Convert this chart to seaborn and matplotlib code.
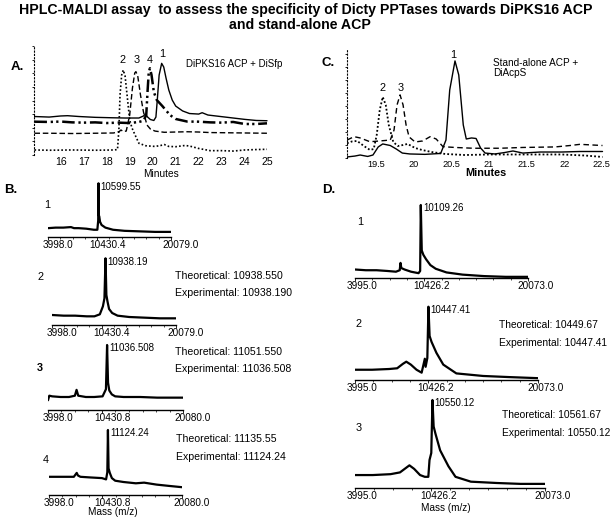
import numpy as np
import pandas as pd
import seaborn as sns
import matplotlib.pyplot as plt
import matplotlib.transforms as mtransforms
from matplotlib.ticker import FixedLocator

# ---- HPLC traces, panel A (minutes, relative absorbance) ----
a_time_1 = [14.86, 15.5, 16.0, 16.3, 16.8, 17.5, 18.2, 18.8, 19.4, 19.6, 19.68, 19.78, 19.9, 20.05, 20.14,
            20.2, 20.28, 20.39, 20.48, 20.58, 20.7, 20.85, 21.0, 21.3, 21.6, 22.0, 22.15, 22.4, 23.0, 23.5,
            24.0, 24.5, 24.97]
a_sig_1 = [2.83, 2.79, 2.87, 2.89, 2.83, 2.77, 2.74, 2.72, 2.72, 2.87, 3.01, 2.79, 2.61, 2.54, 2.79,
           4.04, 5.88, 6.74, 6.47, 5.66, 4.78, 4.04, 3.6, 3.24, 3.05, 3.01, 3.11, 2.94, 2.82, 2.72,
           2.62, 2.54, 2.52]
a_time_2 = [14.86, 15.5, 16.5, 17.5, 18.3, 18.47, 18.53, 18.58, 18.65, 18.72, 18.8, 18.9, 19.0, 19.1, 19.2,
            19.4, 19.7, 20.1, 20.35, 20.5, 20.7, 21.0, 21.4, 21.6, 22.0, 22.5, 23.0, 23.5, 24.0, 24.5, 24.97]
a_sig_2 = [0.37, 0.35, 0.37, 0.35, 0.37, 0.40, 1.84, 4.41, 5.88, 6.25, 5.81, 4.19, 2.57, 1.99, 1.60,
           0.86, 0.68, 0.63, 0.70, 0.77, 0.63, 0.61, 0.70, 0.66, 0.48, 0.32, 0.32, 0.29, 0.37, 0.40, 0.42]
a_time_3 = [14.86, 15.5, 16.5, 17.5, 18.3, 18.55, 18.62, 18.72, 18.85, 19.0, 19.12, 19.22, 19.27, 19.35,
            19.47, 19.6, 19.75, 19.9, 20.1, 20.5, 21.0, 21.5, 22.0, 22.5, 23.0, 24.0, 24.97]
a_sig_3 = [1.60, 1.60, 1.58, 1.60, 1.62, 1.73, 1.84, 1.73, 1.76, 2.94, 4.93, 6.03, 6.13, 5.81,
           4.41, 3.16, 2.21, 1.91, 1.76, 1.67, 1.69, 1.71, 1.69, 1.65, 1.64, 1.62, 1.60]
a_time_4 = [14.86, 15.5, 16.0, 16.5, 17.0, 17.5, 18.0, 18.5, 19.0, 19.4, 19.6, 19.72, 19.78, 19.83, 19.88,
            19.95, 20.05, 20.18, 20.3, 20.42, 20.6, 20.75, 21.0, 21.5, 22.0, 22.5, 23.0, 23.5, 24.0, 24.5, 24.97]
a_sig_4 = [2.45, 2.43, 2.46, 2.40, 2.38, 2.40, 2.35, 2.38, 2.35, 2.43, 2.52, 2.94, 4.78, 6.10, 6.38,
           5.88, 4.63, 4.04, 3.82, 3.6, 3.24, 2.94, 2.65, 2.46, 2.45, 2.40, 2.38, 2.43, 2.28, 2.28, 2.33]
a_ticks = [16, 17, 18, 19, 20, 21, 22, 23, 24, 25]

# ---- HPLC traces, panel C ----
c_time_1 = [19.115, 19.22, 19.29, 19.39, 19.46, 19.53, 19.59, 19.69, 19.77, 19.85, 19.95, 20.15, 20.36,
            20.43, 20.48, 20.55, 20.60, 20.66, 20.70, 20.77, 20.83, 20.89, 20.95, 21.08, 21.21, 21.32,
            21.45, 21.68, 21.97, 22.21, 22.51]
c_sig_1 = [0.08, 0.15, 0.23, 0.12, 0.23, 0.85, 1.08, 0.96, 0.69, 0.38, 0.31, 0.28, 0.35,
           1.38, 5.23, 7.46, 6.38, 2.54, 1.46, 1.54, 1.5, 0.77, 0.38, 0.31, 0.42, 0.54,
           0.38, 0.46, 0.46, 0.5, 0.5]
c_time_2 = [19.115, 19.18, 19.25, 19.34, 19.42, 19.47, 19.51, 19.55, 19.59, 19.63, 19.67, 19.73, 19.79,
            19.86, 19.92, 20.02, 20.11, 20.24, 20.42, 20.68, 21.01, 21.45, 21.97, 22.28, 22.51]
c_sig_2 = [1.13, 1.27, 1.31, 0.92, 0.62, 0.69, 1.77, 3.69, 4.69, 4.08, 2.54, 1.23, 0.92,
           1.0, 1.08, 0.77, 0.62, 0.46, 0.31, 0.23, 0.27, 0.27, 0.27, 0.19, 0.08]
c_time_3 = [19.115, 19.21, 19.29, 19.42, 19.55, 19.69, 19.74, 19.78, 19.82, 19.86, 19.90, 19.94, 20.02,
            20.12, 20.22, 20.30, 20.39, 20.55, 20.79, 21.15, 21.45, 21.88, 22.08, 22.21, 22.51]
c_sig_3 = [1.38, 1.64, 1.54, 1.25, 1.31, 1.38, 2.15, 4.08, 4.85, 4.08, 2.54, 1.62, 1.23,
           1.31, 1.64, 1.46, 0.87, 0.81, 0.75, 0.75, 0.81, 0.85, 0.96, 1.05, 0.96]
c_ticks = [19.5, 20.0, 20.5, 21.0, 21.5, 22.0, 22.5]

# ---- MALDI spectra, panel B (m/z, relative intensity %) ----
b1_mass = [3998, 5000, 6000, 7000, 7400, 8000, 9000, 10000, 10450, 10560, 10599.55, 10640, 10700, 10800,
           11000, 11500, 12500, 14000, 16000, 18000, 20079]
b1_int = [16, 17, 17, 18, 16, 16, 15, 13, 13, 30, 100, 40, 38, 28, 22, 17, 13, 11, 10, 9, 9]
b2_mass = [3998, 5500, 7000, 8500, 9500, 10200, 10600, 10800, 10938.19, 11050, 11200, 11400, 11800, 12500,
           14000, 16000, 18000, 20079]
b2_int = [15, 14, 14, 13, 13, 16, 28, 40, 100, 45, 35, 24, 18, 14, 12, 11, 10, 10]
b3_mass = [3998, 4150, 4500, 5500, 6500, 7200, 7400, 7600, 8500, 9500, 10500, 10900, 11036.508, 11150,
           11300, 11600, 12000, 13000, 15000, 17000, 20080]
b3_int = [15, 22, 21, 20, 20, 22, 31, 22, 20, 20, 21, 32, 100, 42, 30, 24, 21, 20, 20, 19, 19]
b4_mass = [3998, 5000, 6000, 7000, 7350, 7500, 7800, 9000, 10400, 10900, 11050, 11124.24, 11200, 11350,
           11600, 12000, 13000, 14500, 15500, 17000, 18500, 20080]
b4_int = [28, 28, 28, 28, 34, 30, 28, 27, 26, 24, 35, 100, 41, 34, 26, 22, 20, 18, 19, 16, 14, 12]
b_ticks_12 = [3998.0, 10430.4, 20079.0]
b_ticks_34 = [3998.0, 10430.8, 20080.0]
b_peak_labels = ["10599.55", "10938.19", "11036.508", "11124.24"]
b_theor = [None, "10938.550", "11051.550", "11135.55"]
b_exper = [None, "10938.190", "11036.508", "11124.24"]

# ---- MALDI spectra, panel D ----
d1_mass = [3995, 5000, 6000, 7000, 7800, 8150, 8225, 8300, 8600, 9200, 9900, 10050, 10109.26, 10200, 10350,
           10600, 11000, 11500, 12500, 14000, 16000, 18000, 20073]
d1_int = [12, 11, 11, 10, 9, 11, 21, 14, 12, 9, 7, 10, 100, 38, 32, 26, 18, 13, 8, 5, 3, 2, 2]
d2_mass = [3995, 5500, 7000, 7700, 8200, 8500, 8900, 9400, 9850, 10130, 10200, 10350, 10447.41, 10550, 10720,
           11150, 11750, 12900, 15250, 17500, 20073]
d2_int = [14, 14, 15, 16, 22, 25, 21, 14, 10, 29, 18, 30, 100, 60, 52, 37, 21, 9, 5.5, 4, 2.5]
d3_mass = [3995, 5500, 7000, 7800, 8300, 8600, 9000, 9500, 9900, 10200, 10300, 10450, 10550.12, 10650, 10800,
           11200, 11900, 12500, 13800, 16000, 18000, 20073]
d3_int = [15, 15, 16, 18, 23, 26, 22, 15, 13, 13, 32, 40, 100, 70, 62, 43, 25, 13, 7.5, 6, 5, 5]
d_ticks = [3995.0, 10426.2, 20073.0]
d_peak_labels = ["10109.26", "10447.41", "10550.12"]
d_theor = [None, "10449.67", "10561.67"]
d_exper = [None, "10447.41", "10550.12"]

sns.set_style("white")
plt.rcParams["font.family"] = ["Liberation Sans", "DejaVu Sans"]
plt.rcParams["text.color"] = "black"
plt.rcParams["xtick.color"] = "black"
plt.rcParams["ytick.color"] = "black"

W, H = 613, 520
fig = plt.figure(figsize=(W / 100, H / 100), dpi=100)


def box(left, right, top, bottom):
    # pixel box -> figure fraction rect
    return [left / W, 1 - bottom / H, (right - left) / W, (bottom - top) / H]


def ftext(x, y, s, **kw):
    kw.setdefault("va", "center")
    fig.text(x / W, 1 - y / H, s, **kw)


def shift_labels(ax, dx_px):
    off = mtransforms.ScaledTranslation(dx_px / 100, 0, fig.dpi_scale_trans)
    for lab in ax.get_xticklabels():
        lab.set_transform(lab.get_transform() + off)


def hplc_axes(ax, xlim, ylim, ticks, pad, size):
    ax.set_xlim(*xlim)
    ax.set_ylim(*ylim)
    ax.set_xticks(ticks)
    ax.set_xticklabels([f"{t:g}" if float(t).is_integer() and t > 15 else f"{t:.1f}" for t in ticks])
    ax.set_yticks(np.arange(0, ylim[1] + 0.01, 1))
    ax.tick_params(axis="x", length=0, pad=pad, labelsize=size)
    ax.tick_params(axis="y", length=1.5, width=0.6, labelleft=False, left=True, direction="out")
    for s in ["top", "right", "bottom"]:
        ax.spines[s].set_visible(False)
    ax.spines["left"].set_linestyle((0, (1, 2)))
    ax.spines["left"].set_linewidth(0.8)
    ax.spines["left"].set_color("black")
    ax.set_xlabel("")
    ax.set_ylabel("")
    ax.patch.set_alpha(0)


# title
ftext(306, 10, "HPLC-MALDI assay  to assess the specificity of Dicty PPTases towards DiPKS16 ACP",
      ha="center", fontsize=10.2, fontweight="bold")
ftext(300, 25, "and stand-alone ACP", ha="center", fontsize=10.2, fontweight="bold")

# ---- panel A ----
dfA = pd.concat([pd.DataFrame({"time": t, "signal": s, "peak": p}) for t, s, p in
                 [(a_time_1, a_sig_1, "1"), (a_time_2, a_sig_2, "2"),
                  (a_time_3, a_sig_3, "3"), (a_time_4, a_sig_4, "4")]])
axA = fig.add_axes(box(34, 270, 45, 155))
sns.lineplot(data=dfA, x="time", y="signal", style="peak", size="peak",
             dashes={"1": "", "2": (1, 1.3), "3": (4, 2), "4": (5, 1.5, 0.9, 1.3, 0.9, 1.5)},
             sizes={"1": 1.0, "2": 1.2, "3": 1.0, "4": 1.8},
             color="black", estimator=None, sort=False, legend=False, ax=axA)
hplc_axes(axA, (14.84, 25.1), (0, 8.09), a_ticks, 1.7, 7.6)
for lab, t, v in [("2", 18.7, 6.99), ("3", 19.3, 6.99), ("4", 19.88, 6.99), ("1", 20.42, 7.41)]:
    axA.text(t, v, lab, ha="center", va="center", fontsize=7.8)
ftext(186, 64, "DiPKS16 ACP + DiSfp", fontsize=7)
ftext(161, 174, "Minutes", ha="center", fontsize=7.3)
ftext(11, 67, "A.", fontsize=9.5, fontweight="bold")

# ---- panel C ----
dfC = pd.concat([pd.DataFrame({"time": t, "signal": s, "peak": p}) for t, s, p in
                 [(c_time_1, c_sig_1, "1"), (c_time_2, c_sig_2, "2"), (c_time_3, c_sig_3, "3")]])
axC = fig.add_axes(box(347, 604, 50, 158))
sns.lineplot(data=dfC, x="time", y="signal", style="peak", size="peak",
             dashes={"1": "", "2": (1, 1.2), "3": (4, 2.5)},
             sizes={"1": 1.0, "2": 1.3, "3": 1.0},
             color="black", estimator=None, sort=False, legend=False, ax=axC)
hplc_axes(axC, (19.115, 22.53), (0, 8.3), c_ticks, 1.3, 6.6)
for lab, t, v in [("1", 20.52, 7.92), ("2", 19.59, 5.38), ("3", 19.83, 5.38)]:
    axC.text(t, v, lab, ha="center", va="center", fontsize=7.8)
ftext(493, 63, "Stand-alone ACP +", fontsize=7.2)
ftext(493, 73, "DiAcpS", fontsize=7.2)
ftext(486, 173, "Minutes", ha="center", fontsize=7.8, fontweight="bold")
ftext(322, 63, "C.", fontsize=9.5, fontweight="bold")


# ---- spectra ----
def spectrum(mass, inten, ticks, rect, dx, peak_mass, peak_label):
    left, right, top, axis_y = rect
    ax = fig.add_axes(box(left, right, axis_y - (axis_y - top) * 1.04, axis_y))
    df = pd.DataFrame({"mass": mass, "intensity": inten})
    sns.lineplot(data=df, x="mass", y="intensity", color="black", lw=1.6,
                 estimator=None, sort=False, ax=ax)
    ax.set_xlim(ticks[0], ticks[-1])
    ax.set_ylim(0, 104)
    ax.set_xticks(ticks)
    ax.set_xticklabels([f"{t:.1f}" for t in ticks])
    ax.xaxis.set_minor_locator(FixedLocator(np.linspace(ticks[0], ticks[-1], 11)))
    ax.set_yticks([])
    ax.tick_params(axis="x", which="major", length=1.8, width=0.6, pad=0.3, labelsize=7.2, direction="out",
                   bottom=True)
    ax.tick_params(axis="x", which="minor", length=1.3, width=0.5, direction="out", bottom=True)
    for s in ["top", "right", "left"]:
        ax.spines[s].set_visible(False)
    ax.spines["bottom"].set_color("black")
    ax.spines["bottom"].set_linewidth(1.0)
    ax.set_xlabel("")
    ax.set_ylabel("")
    ax.patch.set_alpha(0)
    shift_labels(ax, dx)
    ax.annotate(peak_label, (peak_mass, 100), xytext=(1.5, -2.5), textcoords="offset points",
                ha="left", va="center", fontsize=7.0)
    return ax


b_rects = [(48, 171, 183.3, 236.7), (52, 176, 258.3, 325), (48, 183, 345, 410), (49, 182, 430, 495)]
b_data = [(b1_mass, b1_int), (b2_mass, b2_int), (b3_mass, b3_int), (b4_mass, b4_int)]
b_num_pos = [(47, 205), (40, 277), (40, 368), (46, 460)]
b_text_pos = [None, (175, 276), (175, 352), (176, 439)]
for i in range(4):
    m, v = b_data[i]
    ticks = b_ticks_12 if i < 2 else b_ticks_34
    spectrum(m, v, ticks, b_rects[i], 10, float(b_peak_labels[i]), b_peak_labels[i])
    ftext(*b_num_pos[i], str(i + 1), fontsize=7.8, ha="center", fontweight="bold" if i == 2 else "normal")
    if b_theor[i]:
        x, y = b_text_pos[i]
        ftext(x, y, f"Theoretical: {b_theor[i]}", fontsize=7.6)
        ftext(x, y + 17.5, f"Experimental: {b_exper[i]}", fontsize=7.6)
ftext(113, 512, "Mass (m/z)", ha="center", fontsize=7.2)
ftext(4, 190, "B.", fontsize=9.5, fontweight="bold")

d_rects = [(355, 528, 205, 278.3), (355, 538, 306.7, 380), (355, 545, 400, 488.3)]
d_data = [(d1_mass, d1_int), (d2_mass, d2_int), (d3_mass, d3_int)]
d_num_pos = [(360, 222), (358, 324), (359, 428)]
d_text_pos = [None, (499, 325), (502, 415)]
for i in range(3):
    m, v = d_data[i]
    spectrum(m, v, d_ticks, d_rects[i], 7.5, float(d_peak_labels[i]), d_peak_labels[i])
    ftext(*d_num_pos[i], str(i + 1), fontsize=7.8, ha="center")
    if d_theor[i]:
        x, y = d_text_pos[i]
        ftext(x, y, f"Theoretical: {d_theor[i]}", fontsize=7.4)
        ftext(x, y + 18, f"Experimental: {d_exper[i]}", fontsize=7.4)
ftext(446, 508, "Mass (m/z)", ha="center", fontsize=7.2)
ftext(322, 190, "D.", fontsize=9.5, fontweight="bold")

fig.savefig("out.png", dpi=100)
